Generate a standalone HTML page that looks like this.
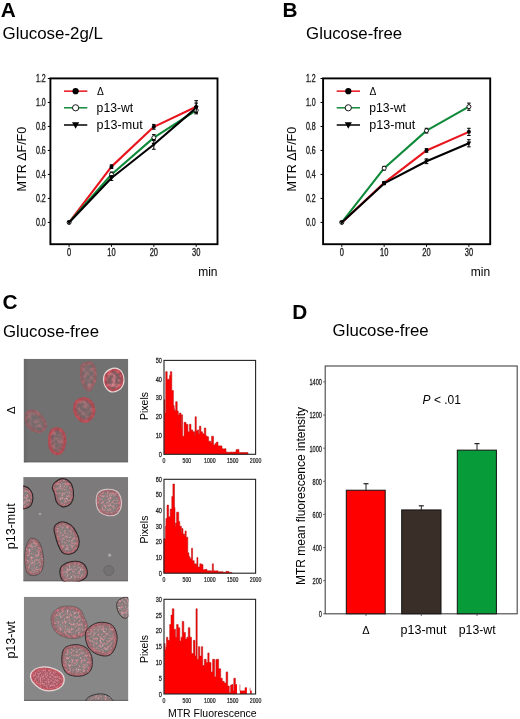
<!DOCTYPE html>
<html><head><meta charset="utf-8"><style>
html,body{margin:0;padding:0;background:#fff;overflow:hidden}
svg{display:block;filter:blur(0.3px)}
text{font-family:"Liberation Sans", sans-serif}
</style></head><body>
<svg width="520" height="719" viewBox="0 0 520 719">
<rect width="520" height="719" fill="#fff"/>
<text transform="translate(0.70,17.40)" font-size="20.8" font-weight="bold" fill="#000">A</text>
<text transform="translate(2.50,38.90)" font-size="16.9" fill="#000">Glucose-2g/L</text>
<text transform="translate(282.60,16.60)" font-size="20.8" font-weight="bold" fill="#000">B</text>
<text transform="translate(306.10,38.80)" font-size="16.8" fill="#000">Glucose-free</text>
<text transform="translate(2.60,309.40)" font-size="20.8" font-weight="bold" fill="#000">C</text>
<text transform="translate(2.90,336.90)" font-size="16.8" fill="#000">Glucose-free</text>
<text transform="translate(292.30,319.20)" font-size="20.8" font-weight="bold" fill="#000">D</text>
<text transform="translate(332.60,336.00)" font-size="16.8" fill="#000">Glucose-free</text>
<rect x="50.4" y="78.4" width="167.1" height="165.79999999999998" fill="none" stroke="#000" stroke-width="1.9"/>
<line x1="47.80" y1="222.40" x2="50.40" y2="222.40" stroke="#000" stroke-width="1"/>
<text transform="translate(45.80,226.20) scale(0.68,1)" font-size="10.4" text-anchor="end" fill="#222" stroke="#222" stroke-width="0.35">0.0</text>
<line x1="47.80" y1="198.42" x2="50.40" y2="198.42" stroke="#000" stroke-width="1"/>
<text transform="translate(45.80,202.22) scale(0.68,1)" font-size="10.4" text-anchor="end" fill="#222" stroke="#222" stroke-width="0.35">0.2</text>
<line x1="47.80" y1="174.43" x2="50.40" y2="174.43" stroke="#000" stroke-width="1"/>
<text transform="translate(45.80,178.23) scale(0.68,1)" font-size="10.4" text-anchor="end" fill="#222" stroke="#222" stroke-width="0.35">0.4</text>
<line x1="47.80" y1="150.45" x2="50.40" y2="150.45" stroke="#000" stroke-width="1"/>
<text transform="translate(45.80,154.25) scale(0.68,1)" font-size="10.4" text-anchor="end" fill="#222" stroke="#222" stroke-width="0.35">0.6</text>
<line x1="47.80" y1="126.47" x2="50.40" y2="126.47" stroke="#000" stroke-width="1"/>
<text transform="translate(45.80,130.27) scale(0.68,1)" font-size="10.4" text-anchor="end" fill="#222" stroke="#222" stroke-width="0.35">0.8</text>
<line x1="47.80" y1="102.48" x2="50.40" y2="102.48" stroke="#000" stroke-width="1"/>
<text transform="translate(45.80,106.28) scale(0.68,1)" font-size="10.4" text-anchor="end" fill="#222" stroke="#222" stroke-width="0.35">1.0</text>
<line x1="47.80" y1="78.50" x2="50.40" y2="78.50" stroke="#000" stroke-width="1"/>
<text transform="translate(45.80,82.30) scale(0.68,1)" font-size="10.4" text-anchor="end" fill="#222" stroke="#222" stroke-width="0.35">1.2</text>
<line x1="69.10" y1="244.20" x2="69.10" y2="246.80" stroke="#000" stroke-width="1"/>
<text transform="translate(69.10,255.60) scale(0.72,1)" font-size="10.4" text-anchor="middle" fill="#222" stroke="#222" stroke-width="0.35">0</text>
<line x1="111.47" y1="244.20" x2="111.47" y2="246.80" stroke="#000" stroke-width="1"/>
<text transform="translate(111.47,255.60) scale(0.72,1)" font-size="10.4" text-anchor="middle" fill="#222" stroke="#222" stroke-width="0.35">10</text>
<line x1="153.83" y1="244.20" x2="153.83" y2="246.80" stroke="#000" stroke-width="1"/>
<text transform="translate(153.83,255.60) scale(0.72,1)" font-size="10.4" text-anchor="middle" fill="#222" stroke="#222" stroke-width="0.35">20</text>
<line x1="196.20" y1="244.20" x2="196.20" y2="246.80" stroke="#000" stroke-width="1"/>
<text transform="translate(196.20,255.60) scale(0.72,1)" font-size="10.4" text-anchor="middle" fill="#222" stroke="#222" stroke-width="0.35">30</text>
<text transform="translate(217.50,275.80)" font-size="12" text-anchor="end" fill="#000">min</text>
<text transform="translate(26.40,191.40) rotate(-90)" font-size="12.5" fill="#000">MTR ΔF/F0</text>
<polyline points="69.10,222.40 111.47,166.64 153.83,126.83 196.20,106.68" fill="none" stroke="#e8141e" stroke-width="2.1" stroke-linejoin="round"/>
<polyline points="69.10,222.40 111.47,174.43 153.83,137.62 196.20,110.28" fill="none" stroke="#0f8a3a" stroke-width="2.1" stroke-linejoin="round"/>
<polyline points="69.10,222.40 111.47,178.03 153.83,144.45 196.20,107.88" fill="none" stroke="#000" stroke-width="2.1" stroke-linejoin="round"/>
<circle cx="69.10" cy="222.40" r="2.0" fill="#000"/>
<line x1="111.47" y1="164.84" x2="111.47" y2="168.44" stroke="#000" stroke-width="1"/>
<line x1="109.67" y1="164.84" x2="113.27" y2="164.84" stroke="#000" stroke-width="1"/>
<line x1="109.67" y1="168.44" x2="113.27" y2="168.44" stroke="#000" stroke-width="1"/>
<circle cx="111.47" cy="166.64" r="2.0" fill="#000"/>
<line x1="153.83" y1="124.43" x2="153.83" y2="129.22" stroke="#000" stroke-width="1"/>
<line x1="152.03" y1="124.43" x2="155.63" y2="124.43" stroke="#000" stroke-width="1"/>
<line x1="152.03" y1="129.22" x2="155.63" y2="129.22" stroke="#000" stroke-width="1"/>
<circle cx="153.83" cy="126.83" r="2.0" fill="#000"/>
<line x1="196.20" y1="100.68" x2="196.20" y2="112.68" stroke="#000" stroke-width="1"/>
<line x1="194.40" y1="100.68" x2="198.00" y2="100.68" stroke="#000" stroke-width="1"/>
<line x1="194.40" y1="112.68" x2="198.00" y2="112.68" stroke="#000" stroke-width="1"/>
<circle cx="196.20" cy="106.68" r="2.0" fill="#000"/>
<circle cx="69.10" cy="222.40" r="2.0" fill="#fff" stroke="#000" stroke-width="0.9"/>
<line x1="111.47" y1="172.03" x2="111.47" y2="176.83" stroke="#000" stroke-width="1"/>
<line x1="109.67" y1="172.03" x2="113.27" y2="172.03" stroke="#000" stroke-width="1"/>
<line x1="109.67" y1="176.83" x2="113.27" y2="176.83" stroke="#000" stroke-width="1"/>
<circle cx="111.47" cy="174.43" r="2.0" fill="#fff" stroke="#000" stroke-width="0.9"/>
<line x1="153.83" y1="134.62" x2="153.83" y2="140.62" stroke="#000" stroke-width="1"/>
<line x1="152.03" y1="134.62" x2="155.63" y2="134.62" stroke="#000" stroke-width="1"/>
<line x1="152.03" y1="140.62" x2="155.63" y2="140.62" stroke="#000" stroke-width="1"/>
<circle cx="153.83" cy="137.62" r="2.0" fill="#fff" stroke="#000" stroke-width="0.9"/>
<line x1="196.20" y1="106.68" x2="196.20" y2="113.88" stroke="#000" stroke-width="1"/>
<line x1="194.40" y1="106.68" x2="198.00" y2="106.68" stroke="#000" stroke-width="1"/>
<line x1="194.40" y1="113.88" x2="198.00" y2="113.88" stroke="#000" stroke-width="1"/>
<circle cx="196.20" cy="110.28" r="2.0" fill="#fff" stroke="#000" stroke-width="0.9"/>
<path d="M66.80,220.68L71.40,220.68L69.10,224.81Z" fill="#000"/>
<line x1="111.47" y1="175.63" x2="111.47" y2="180.43" stroke="#000" stroke-width="1"/>
<line x1="109.67" y1="175.63" x2="113.27" y2="175.63" stroke="#000" stroke-width="1"/>
<line x1="109.67" y1="180.43" x2="113.27" y2="180.43" stroke="#000" stroke-width="1"/>
<path d="M109.17,176.31L113.77,176.31L111.47,180.45Z" fill="#000"/>
<line x1="153.83" y1="139.66" x2="153.83" y2="149.25" stroke="#000" stroke-width="1"/>
<line x1="152.03" y1="139.66" x2="155.63" y2="139.66" stroke="#000" stroke-width="1"/>
<line x1="152.03" y1="149.25" x2="155.63" y2="149.25" stroke="#000" stroke-width="1"/>
<path d="M151.53,142.73L156.13,142.73L153.83,146.87Z" fill="#000"/>
<line x1="196.20" y1="103.08" x2="196.20" y2="112.68" stroke="#000" stroke-width="1"/>
<line x1="194.40" y1="103.08" x2="198.00" y2="103.08" stroke="#000" stroke-width="1"/>
<line x1="194.40" y1="112.68" x2="198.00" y2="112.68" stroke="#000" stroke-width="1"/>
<path d="M193.90,106.15L198.50,106.15L196.20,110.29Z" fill="#000"/>
<line x1="64.00" y1="91.15" x2="87.30" y2="91.15" stroke="#e8141e" stroke-width="1.5"/>
<circle cx="75.60" cy="91.15" r="3.1" fill="#000"/>
<line x1="64.00" y1="107.8" x2="87.30" y2="107.8" stroke="#0f8a3a" stroke-width="1.5"/>
<circle cx="75.60" cy="107.80" r="3.1" fill="#fff" stroke="#000" stroke-width="0.9"/>
<line x1="64.00" y1="125.0" x2="87.30" y2="125.0" stroke="#000" stroke-width="1.5"/>
<path d="M72.03,122.33L79.16,122.33L75.60,128.74Z" fill="#000"/>
<text transform="translate(96.90,94.90)" font-size="10.2" fill="#000">Δ</text>
<text transform="translate(96.60,111.70)" font-size="12.2" fill="#000">p13-wt</text>
<text transform="translate(96.60,128.50)" font-size="12.55" fill="#000">p13-mut</text>
<rect x="323.09999999999997" y="78.4" width="167.10000000000002" height="165.79999999999998" fill="none" stroke="#000" stroke-width="1.9"/>
<line x1="320.50" y1="222.40" x2="323.10" y2="222.40" stroke="#000" stroke-width="1"/>
<text transform="translate(315.70,226.20) scale(0.68,1)" font-size="10.4" text-anchor="end" fill="#222" stroke="#222" stroke-width="0.35">0.0</text>
<line x1="320.50" y1="198.42" x2="323.10" y2="198.42" stroke="#000" stroke-width="1"/>
<text transform="translate(315.70,202.22) scale(0.68,1)" font-size="10.4" text-anchor="end" fill="#222" stroke="#222" stroke-width="0.35">0.2</text>
<line x1="320.50" y1="174.43" x2="323.10" y2="174.43" stroke="#000" stroke-width="1"/>
<text transform="translate(315.70,178.23) scale(0.68,1)" font-size="10.4" text-anchor="end" fill="#222" stroke="#222" stroke-width="0.35">0.4</text>
<line x1="320.50" y1="150.45" x2="323.10" y2="150.45" stroke="#000" stroke-width="1"/>
<text transform="translate(315.70,154.25) scale(0.68,1)" font-size="10.4" text-anchor="end" fill="#222" stroke="#222" stroke-width="0.35">0.6</text>
<line x1="320.50" y1="126.47" x2="323.10" y2="126.47" stroke="#000" stroke-width="1"/>
<text transform="translate(315.70,130.27) scale(0.68,1)" font-size="10.4" text-anchor="end" fill="#222" stroke="#222" stroke-width="0.35">0.8</text>
<line x1="320.50" y1="102.48" x2="323.10" y2="102.48" stroke="#000" stroke-width="1"/>
<text transform="translate(315.70,106.28) scale(0.68,1)" font-size="10.4" text-anchor="end" fill="#222" stroke="#222" stroke-width="0.35">1.0</text>
<line x1="320.50" y1="78.50" x2="323.10" y2="78.50" stroke="#000" stroke-width="1"/>
<text transform="translate(315.70,82.30) scale(0.68,1)" font-size="10.4" text-anchor="end" fill="#222" stroke="#222" stroke-width="0.35">1.2</text>
<line x1="341.80" y1="244.20" x2="341.80" y2="246.80" stroke="#000" stroke-width="1"/>
<text transform="translate(341.80,255.60) scale(0.72,1)" font-size="10.4" text-anchor="middle" fill="#222" stroke="#222" stroke-width="0.35">0</text>
<line x1="384.17" y1="244.20" x2="384.17" y2="246.80" stroke="#000" stroke-width="1"/>
<text transform="translate(384.17,255.60) scale(0.72,1)" font-size="10.4" text-anchor="middle" fill="#222" stroke="#222" stroke-width="0.35">10</text>
<line x1="426.53" y1="244.20" x2="426.53" y2="246.80" stroke="#000" stroke-width="1"/>
<text transform="translate(426.53,255.60) scale(0.72,1)" font-size="10.4" text-anchor="middle" fill="#222" stroke="#222" stroke-width="0.35">20</text>
<line x1="468.90" y1="244.20" x2="468.90" y2="246.80" stroke="#000" stroke-width="1"/>
<text transform="translate(468.90,255.60) scale(0.72,1)" font-size="10.4" text-anchor="middle" fill="#222" stroke="#222" stroke-width="0.35">30</text>
<text transform="translate(490.20,275.80)" font-size="12" text-anchor="end" fill="#000">min</text>
<text transform="translate(295.60,191.40) rotate(-90)" font-size="12.5" fill="#000">MTR ΔF/F0</text>
<polyline points="341.80,222.40 384.17,182.83 426.53,150.45 468.90,131.86" fill="none" stroke="#e8141e" stroke-width="2.1" stroke-linejoin="round"/>
<polyline points="341.80,222.40 384.17,168.20 426.53,130.66 468.90,106.68" fill="none" stroke="#0f8a3a" stroke-width="2.1" stroke-linejoin="round"/>
<polyline points="341.80,222.40 384.17,183.43 426.53,161.24 468.90,143.25" fill="none" stroke="#000" stroke-width="2.1" stroke-linejoin="round"/>
<circle cx="341.80" cy="222.40" r="2.0" fill="#000"/>
<line x1="384.17" y1="181.63" x2="384.17" y2="184.03" stroke="#000" stroke-width="1"/>
<line x1="382.37" y1="181.63" x2="385.97" y2="181.63" stroke="#000" stroke-width="1"/>
<line x1="382.37" y1="184.03" x2="385.97" y2="184.03" stroke="#000" stroke-width="1"/>
<circle cx="384.17" cy="182.83" r="2.0" fill="#000"/>
<line x1="426.53" y1="148.65" x2="426.53" y2="152.25" stroke="#000" stroke-width="1"/>
<line x1="424.73" y1="148.65" x2="428.33" y2="148.65" stroke="#000" stroke-width="1"/>
<line x1="424.73" y1="152.25" x2="428.33" y2="152.25" stroke="#000" stroke-width="1"/>
<circle cx="426.53" cy="150.45" r="2.0" fill="#000"/>
<line x1="468.90" y1="128.27" x2="468.90" y2="135.46" stroke="#000" stroke-width="1"/>
<line x1="467.10" y1="128.27" x2="470.70" y2="128.27" stroke="#000" stroke-width="1"/>
<line x1="467.10" y1="135.46" x2="470.70" y2="135.46" stroke="#000" stroke-width="1"/>
<circle cx="468.90" cy="131.86" r="2.0" fill="#000"/>
<circle cx="341.80" cy="222.40" r="2.0" fill="#fff" stroke="#000" stroke-width="0.9"/>
<line x1="384.17" y1="166.40" x2="384.17" y2="170.00" stroke="#000" stroke-width="1"/>
<line x1="382.37" y1="166.40" x2="385.97" y2="166.40" stroke="#000" stroke-width="1"/>
<line x1="382.37" y1="170.00" x2="385.97" y2="170.00" stroke="#000" stroke-width="1"/>
<circle cx="384.17" cy="168.20" r="2.0" fill="#fff" stroke="#000" stroke-width="0.9"/>
<line x1="426.53" y1="128.27" x2="426.53" y2="133.06" stroke="#000" stroke-width="1"/>
<line x1="424.73" y1="128.27" x2="428.33" y2="128.27" stroke="#000" stroke-width="1"/>
<line x1="424.73" y1="133.06" x2="428.33" y2="133.06" stroke="#000" stroke-width="1"/>
<circle cx="426.53" cy="130.66" r="2.0" fill="#fff" stroke="#000" stroke-width="0.9"/>
<line x1="468.90" y1="103.08" x2="468.90" y2="110.28" stroke="#000" stroke-width="1"/>
<line x1="467.10" y1="103.08" x2="470.70" y2="103.08" stroke="#000" stroke-width="1"/>
<line x1="467.10" y1="110.28" x2="470.70" y2="110.28" stroke="#000" stroke-width="1"/>
<circle cx="468.90" cy="106.68" r="2.0" fill="#fff" stroke="#000" stroke-width="0.9"/>
<path d="M339.50,220.68L344.10,220.68L341.80,224.81Z" fill="#000"/>
<line x1="384.17" y1="182.23" x2="384.17" y2="184.63" stroke="#000" stroke-width="1"/>
<line x1="382.37" y1="182.23" x2="385.97" y2="182.23" stroke="#000" stroke-width="1"/>
<line x1="382.37" y1="184.63" x2="385.97" y2="184.63" stroke="#000" stroke-width="1"/>
<path d="M381.87,181.70L386.47,181.70L384.17,185.84Z" fill="#000"/>
<line x1="426.53" y1="158.84" x2="426.53" y2="163.64" stroke="#000" stroke-width="1"/>
<line x1="424.73" y1="158.84" x2="428.33" y2="158.84" stroke="#000" stroke-width="1"/>
<line x1="424.73" y1="163.64" x2="428.33" y2="163.64" stroke="#000" stroke-width="1"/>
<path d="M424.23,159.52L428.83,159.52L426.53,163.66Z" fill="#000"/>
<line x1="468.90" y1="139.66" x2="468.90" y2="146.85" stroke="#000" stroke-width="1"/>
<line x1="467.10" y1="139.66" x2="470.70" y2="139.66" stroke="#000" stroke-width="1"/>
<line x1="467.10" y1="146.85" x2="470.70" y2="146.85" stroke="#000" stroke-width="1"/>
<path d="M466.60,141.53L471.20,141.53L468.90,145.67Z" fill="#000"/>
<line x1="336.70" y1="91.15" x2="360.00" y2="91.15" stroke="#e8141e" stroke-width="1.5"/>
<circle cx="348.30" cy="91.15" r="3.1" fill="#000"/>
<line x1="336.70" y1="107.8" x2="360.00" y2="107.8" stroke="#0f8a3a" stroke-width="1.5"/>
<circle cx="348.30" cy="107.80" r="3.1" fill="#fff" stroke="#000" stroke-width="0.9"/>
<line x1="336.70" y1="125.0" x2="360.00" y2="125.0" stroke="#000" stroke-width="1.5"/>
<path d="M344.73,122.33L351.86,122.33L348.30,128.74Z" fill="#000"/>
<text transform="translate(369.60,94.90)" font-size="10.2" fill="#000">Δ</text>
<text transform="translate(369.30,111.70)" font-size="12.2" fill="#000">p13-wt</text>
<text transform="translate(369.30,128.50)" font-size="12.55" fill="#000">p13-mut</text>
<rect x="325.2" y="366.0" width="192.00000000000006" height="247.79999999999995" fill="none" stroke="#444" stroke-width="1.1"/>
<line x1="323.20" y1="613.80" x2="325.2" y2="613.80" stroke="#444" stroke-width="0.8"/>
<text transform="translate(322.00,617.20) scale(0.6,1)" font-size="9.4" text-anchor="end" fill="#222" stroke="#222" stroke-width="0.3">0</text>
<line x1="323.20" y1="580.67" x2="325.2" y2="580.67" stroke="#444" stroke-width="0.8"/>
<text transform="translate(322.00,584.07) scale(0.6,1)" font-size="9.4" text-anchor="end" fill="#222" stroke="#222" stroke-width="0.3">200</text>
<line x1="323.20" y1="547.54" x2="325.2" y2="547.54" stroke="#444" stroke-width="0.8"/>
<text transform="translate(322.00,550.94) scale(0.6,1)" font-size="9.4" text-anchor="end" fill="#222" stroke="#222" stroke-width="0.3">400</text>
<line x1="323.20" y1="514.41" x2="325.2" y2="514.41" stroke="#444" stroke-width="0.8"/>
<text transform="translate(322.00,517.81) scale(0.6,1)" font-size="9.4" text-anchor="end" fill="#222" stroke="#222" stroke-width="0.3">600</text>
<line x1="323.20" y1="481.29" x2="325.2" y2="481.29" stroke="#444" stroke-width="0.8"/>
<text transform="translate(322.00,484.69) scale(0.6,1)" font-size="9.4" text-anchor="end" fill="#222" stroke="#222" stroke-width="0.3">800</text>
<line x1="323.20" y1="448.16" x2="325.2" y2="448.16" stroke="#444" stroke-width="0.8"/>
<text transform="translate(322.00,451.56) scale(0.6,1)" font-size="9.4" text-anchor="end" fill="#222" stroke="#222" stroke-width="0.3">1000</text>
<line x1="323.20" y1="415.03" x2="325.2" y2="415.03" stroke="#444" stroke-width="0.8"/>
<text transform="translate(322.00,418.43) scale(0.6,1)" font-size="9.4" text-anchor="end" fill="#222" stroke="#222" stroke-width="0.3">1200</text>
<line x1="323.20" y1="381.90" x2="325.2" y2="381.90" stroke="#444" stroke-width="0.8"/>
<text transform="translate(322.00,385.30) scale(0.6,1)" font-size="9.4" text-anchor="end" fill="#222" stroke="#222" stroke-width="0.3">1400</text>
<text transform="translate(305.20,585.00) rotate(-90)" font-size="12" fill="#000">MTR mean fluorescence intensity</text>
<line x1="366.0" y1="483.7" x2="366.0" y2="490.23042857142855" stroke="#222" stroke-width="1"/>
<line x1="363.5" y1="483.7" x2="368.5" y2="483.7" stroke="#222" stroke-width="1.2"/>
<rect x="346.3" y="490.23" width="38.90" height="123.57" fill="#ff0000" stroke="#111" stroke-width="1"/>
<line x1="366.0" y1="613.8" x2="366.0" y2="616.0" stroke="#444" stroke-width="0.8"/>
<line x1="421.3" y1="505.8" x2="421.3" y2="509.94192857142855" stroke="#222" stroke-width="1"/>
<line x1="418.8" y1="505.8" x2="423.8" y2="505.8" stroke="#222" stroke-width="1.2"/>
<rect x="401.7" y="509.94" width="39.30" height="103.86" fill="#3a2e29" stroke="#111" stroke-width="1"/>
<line x1="421.3" y1="613.8" x2="421.3" y2="616.0" stroke="#444" stroke-width="0.8"/>
<line x1="477.0" y1="443.6" x2="477.0" y2="450.1448571428571" stroke="#222" stroke-width="1"/>
<line x1="474.5" y1="443.6" x2="479.5" y2="443.6" stroke="#222" stroke-width="1.2"/>
<rect x="457.3" y="450.14" width="39.10" height="163.66" fill="#079b3a" stroke="#111" stroke-width="1"/>
<line x1="477.0" y1="613.8" x2="477.0" y2="616.0" stroke="#444" stroke-width="0.8"/>
<text transform="translate(366.00,633.80)" font-size="11" text-anchor="middle" fill="#000">Δ</text>
<text transform="translate(423.50,633.80)" font-size="12.5" text-anchor="middle" fill="#000">p13-mut</text>
<text transform="translate(477.20,633.80)" font-size="12.3" text-anchor="middle" fill="#000">p13-wt</text>
<text x="422.6" y="404" font-size="12" font-family='"Liberation Sans", sans-serif'><tspan font-style="italic">P</tspan> &lt; .01</text>
<path d="M164.20,454.30V399.84H165.00V454.30ZM165.00,454.30V412.98H165.70V454.30ZM165.70,454.30V371.67H167.20V454.30ZM167.20,454.30V379.18H168.00V454.30ZM168.00,454.30V379.18H169.50V454.30ZM169.50,454.30V375.42H170.30V454.30ZM170.30,454.30V371.67H171.80V454.30ZM171.80,454.30V390.45H173.40V454.30ZM173.40,454.30V405.47H174.20V454.30ZM174.20,454.30V409.23H174.90V454.30ZM174.90,454.30V411.11H175.70V454.30ZM175.70,454.30V401.72H177.20V454.30ZM177.20,454.30V411.11H178.30V454.30ZM178.30,454.30V414.86H179.50V454.30ZM179.50,454.30V412.98H181.00V454.30ZM181.00,454.30V428.01H181.30V454.30ZM181.30,454.30V414.86H182.60V454.30ZM182.60,454.30V436.27H184.10V454.30ZM184.10,454.30V422.37H186.00V454.30ZM186.00,454.30V424.25H187.90V454.30ZM187.90,454.30V431.76H189.40V454.30ZM189.40,454.30V424.25H191.00V454.30ZM191.00,454.30V429.89H192.80V454.30ZM192.80,454.30V431.76H194.80V454.30ZM194.80,454.30V435.52H195.10V454.30ZM195.10,454.30V416.74H196.30V454.30ZM196.30,454.30V430.69H197.45V454.30ZM197.45,454.30V429.89H198.60V454.30ZM198.60,454.30V433.64H199.40V454.30ZM199.40,454.30V426.13H200.90V454.30ZM200.90,454.30V431.76H202.50V454.30ZM202.50,454.30V433.64H204.30V454.30ZM204.30,454.30V428.01H205.80V454.30ZM205.80,454.30V435.52H206.30V454.30ZM206.30,454.30V436.27H207.45V454.30ZM207.45,454.30V436.79H208.60V454.30ZM208.60,454.30V441.27H209.75V454.30ZM209.75,454.30V441.15H210.90V454.30ZM210.90,454.30V443.03H211.60V454.30ZM211.60,454.30V436.27H213.50V454.30ZM213.50,454.30V444.91H215.00V454.30ZM215.00,454.30V443.38H216.50V454.30ZM216.50,454.30V442.09H218.00V454.30ZM218.00,454.30V445.95H219.33V454.30ZM219.33,454.30V445.85H220.67V454.30ZM220.67,454.30V445.88H222.00V454.30ZM222.00,454.30V448.71H223.33V454.30ZM223.33,454.30V449.06H224.67V454.30ZM224.67,454.30V448.67H226.00V454.30ZM226.00,454.30V452.07H227.43V454.30ZM227.43,454.30V452.27H228.86V454.30ZM228.86,454.30V452.24H230.29V454.30ZM230.29,454.30V452.05H231.71V454.30ZM231.71,454.30V452.18H233.14V454.30ZM233.14,454.30V452.06H234.57V454.30ZM234.57,454.30V452.05H236.00V454.30ZM236.00,454.30V449.66H237.50V454.30ZM237.50,454.30V449.42H239.00V454.30ZM239.00,454.30V452.42H240.50V454.30ZM240.50,454.30V452.54H242.00V454.30ZM242.00,454.30V452.48H243.50V454.30ZM243.50,454.30V452.56H245.00V454.30ZM245.00,454.30V452.50H246.50V454.30ZM246.50,454.30V452.56H248.00V454.30Z" fill="#ff0000"/>
<path d="M164.20,454.30V399.84H165.00M165.00,399.84V412.98H165.70M165.70,412.98V371.67H167.20M167.20,371.67V379.18H168.00M168.00,379.18V379.18H169.50M169.50,379.18V375.42H170.30M170.30,375.42V371.67H171.80M171.80,371.67V390.45H173.40M173.40,390.45V405.47H174.20M174.20,405.47V409.23H174.90M174.90,409.23V411.11H175.70M175.70,411.11V401.72H177.20M177.20,401.72V411.11H178.30M178.30,411.11V414.86H179.50M179.50,414.86V412.98H181.00M181.00,412.98V428.01H181.30M181.30,428.01V414.86H182.60M182.60,414.86V436.27H184.10M184.10,436.27V422.37H186.00M186.00,422.37V424.25H187.90M187.90,424.25V431.76H189.40M189.40,431.76V424.25H191.00M191.00,424.25V429.89H192.80M192.80,429.89V431.76H194.80M194.80,431.76V435.52H195.10M195.10,435.52V416.74H196.30M196.30,416.74V430.69H197.45M197.45,430.69V429.89H198.60M198.60,429.89V433.64H199.40M199.40,433.64V426.13H200.90M200.90,426.13V431.76H202.50M202.50,431.76V433.64H204.30M204.30,433.64V428.01H205.80M205.80,428.01V435.52H206.30M206.30,435.52V436.27H207.45M207.45,436.27V436.79H208.60M208.60,436.79V441.27H209.75M209.75,441.27V441.15H210.90M210.90,441.15V443.03H211.60M211.60,443.03V436.27H213.50M213.50,436.27V444.91H215.00M215.00,444.91V443.38H216.50M216.50,443.38V442.09H218.00M218.00,442.09V445.95H219.33M219.33,445.95V445.85H220.67M220.67,445.85V445.88H222.00M222.00,445.88V448.71H223.33M223.33,448.71V449.06H224.67M224.67,449.06V448.67H226.00M226.00,448.67V452.07H227.43M227.43,452.07V452.27H228.86M228.86,452.27V452.24H230.29M230.29,452.24V452.05H231.71M231.71,452.05V452.18H233.14M233.14,452.18V452.06H234.57M234.57,452.06V452.05H236.00M236.00,452.05V449.66H237.50M237.50,449.66V449.42H239.00M239.00,449.42V452.42H240.50M240.50,452.42V452.54H242.00M242.00,452.54V452.48H243.50M243.50,452.48V452.56H245.00M245.00,452.56V452.50H246.50M246.50,452.50V452.56H248.00V454.30" stroke="#b81414" stroke-width="0.55" fill="none"/>
<rect x="164.0" y="360.4" width="91.6" height="93.90000000000003" fill="none" stroke="#222" stroke-width="1.1"/>
<text transform="translate(161.90,456.80) scale(0.8,1)" font-size="7.0" text-anchor="end" fill="#222" stroke="#222" stroke-width="0.25">0</text>
<text transform="translate(161.90,438.02) scale(0.8,1)" font-size="7.0" text-anchor="end" fill="#222" stroke="#222" stroke-width="0.25">10</text>
<text transform="translate(161.90,419.24) scale(0.8,1)" font-size="7.0" text-anchor="end" fill="#222" stroke="#222" stroke-width="0.25">20</text>
<text transform="translate(161.90,400.46) scale(0.8,1)" font-size="7.0" text-anchor="end" fill="#222" stroke="#222" stroke-width="0.25">30</text>
<text transform="translate(161.90,381.68) scale(0.8,1)" font-size="7.0" text-anchor="end" fill="#222" stroke="#222" stroke-width="0.25">40</text>
<text transform="translate(161.90,362.90) scale(0.8,1)" font-size="7.0" text-anchor="end" fill="#222" stroke="#222" stroke-width="0.25">50</text>
<text transform="translate(164.00,463.10) scale(0.72,1)" font-size="7.2" text-anchor="middle" fill="#222" stroke="#222" stroke-width="0.25">0</text>
<text transform="translate(186.90,463.10) scale(0.72,1)" font-size="7.2" text-anchor="middle" fill="#222" stroke="#222" stroke-width="0.25">500</text>
<text transform="translate(209.80,463.10) scale(0.72,1)" font-size="7.2" text-anchor="middle" fill="#222" stroke="#222" stroke-width="0.25">1000</text>
<text transform="translate(232.70,463.10) scale(0.72,1)" font-size="7.2" text-anchor="middle" fill="#222" stroke="#222" stroke-width="0.25">1500</text>
<text transform="translate(255.60,463.10) scale(0.72,1)" font-size="7.2" text-anchor="middle" fill="#222" stroke="#222" stroke-width="0.25">2000</text>
<text transform="translate(148.10,406.00) rotate(-90)" font-size="10.5" text-anchor="middle" fill="#000">Pixels</text>
<path d="M163.80,573.20V538.77H165.40V573.20ZM165.40,573.20V526.25H165.90V573.20ZM165.90,573.20V518.43H167.00V573.20ZM167.00,573.20V505.12H168.60V573.20ZM168.60,573.20V516.86H170.20V573.20ZM170.20,573.20V509.04H171.80V573.20ZM171.80,573.20V496.51H172.90V573.20ZM172.90,573.20V484.00H174.50V573.20ZM174.50,573.20V507.47H175.00V573.20ZM175.00,573.20V526.25H175.50V573.20ZM175.50,573.20V523.12H176.60V573.20ZM176.60,573.20V512.16H178.70V573.20ZM178.70,573.20V521.56H179.80V573.20ZM179.80,573.20V526.25H181.40V573.20ZM181.40,573.20V532.51H181.90V573.20ZM181.90,573.20V528.60H183.00V573.20ZM183.00,573.20V534.08H184.60V573.20ZM184.60,573.20V535.64H185.10V573.20ZM185.10,573.20V530.95H186.20V573.20ZM186.20,573.20V537.21H187.80V573.20ZM187.80,573.20V552.86H188.90V573.20ZM188.90,573.20V555.99H189.40V573.20ZM189.40,573.20V557.55H190.50V573.20ZM190.50,573.20V559.12H191.50V573.20ZM191.50,573.20V548.16H192.60V573.20ZM192.60,573.20V560.68H194.20V573.20ZM194.20,573.20V564.12H195.40V573.20ZM195.40,573.20V563.81H196.60V573.20ZM196.60,573.20V565.38H196.90V573.20ZM196.90,573.20V557.55H197.90V573.20ZM197.90,573.20V566.94H199.80V573.20ZM199.80,573.20V563.81H201.40V573.20ZM201.40,573.20V564.55H203.00V573.20ZM203.00,573.20V569.65H204.33V573.20ZM204.33,573.20V569.54H205.67V573.20ZM205.67,573.20V569.29H207.00V573.20ZM207.00,573.20V570.72H208.60V573.20ZM208.60,573.20V570.70H210.20V573.20ZM210.20,573.20V570.87H211.80V573.20ZM211.80,573.20V571.63H212.30V573.20ZM212.30,573.20V563.81H213.40V573.20ZM213.40,573.20V570.85H214.93V573.20ZM214.93,573.20V570.89H216.47V573.20ZM216.47,573.20V570.85H218.00V573.20ZM218.00,573.20V571.63H219.67V573.20ZM219.67,573.20V571.68H221.33V573.20ZM221.33,573.20V571.65H223.00V573.20ZM223.00,573.20V572.32H224.50V573.20ZM224.50,573.20V572.26H226.00V573.20ZM226.00,573.20V571.32H227.50V573.20ZM227.50,573.20V571.48H229.00V573.20ZM229.00,573.20V572.43H230.50V573.20ZM230.50,573.20V572.42H232.00V573.20Z" fill="#ff0000"/>
<path d="M163.80,573.20V538.77H165.40M165.40,538.77V526.25H165.90M165.90,526.25V518.43H167.00M167.00,518.43V505.12H168.60M168.60,505.12V516.86H170.20M170.20,516.86V509.04H171.80M171.80,509.04V496.51H172.90M172.90,496.51V484.00H174.50M174.50,484.00V507.47H175.00M175.00,507.47V526.25H175.50M175.50,526.25V523.12H176.60M176.60,523.12V512.16H178.70M178.70,512.16V521.56H179.80M179.80,521.56V526.25H181.40M181.40,526.25V532.51H181.90M181.90,532.51V528.60H183.00M183.00,528.60V534.08H184.60M184.60,534.08V535.64H185.10M185.10,535.64V530.95H186.20M186.20,530.95V537.21H187.80M187.80,537.21V552.86H188.90M188.90,552.86V555.99H189.40M189.40,555.99V557.55H190.50M190.50,557.55V559.12H191.50M191.50,559.12V548.16H192.60M192.60,548.16V560.68H194.20M194.20,560.68V564.12H195.40M195.40,564.12V563.81H196.60M196.60,563.81V565.38H196.90M196.90,565.38V557.55H197.90M197.90,557.55V566.94H199.80M199.80,566.94V563.81H201.40M201.40,563.81V564.55H203.00M203.00,564.55V569.65H204.33M204.33,569.65V569.54H205.67M205.67,569.54V569.29H207.00M207.00,569.29V570.72H208.60M208.60,570.72V570.70H210.20M210.20,570.70V570.87H211.80M211.80,570.87V571.63H212.30M212.30,571.63V563.81H213.40M213.40,563.81V570.85H214.93M214.93,570.85V570.89H216.47M216.47,570.89V570.85H218.00M218.00,570.85V571.63H219.67M219.67,571.63V571.68H221.33M221.33,571.68V571.65H223.00M223.00,571.65V572.32H224.50M224.50,572.32V572.26H226.00M226.00,572.26V571.32H227.50M227.50,571.32V571.48H229.00M229.00,571.48V572.43H230.50M230.50,572.43V572.42H232.00V573.20" stroke="#b81414" stroke-width="0.55" fill="none"/>
<rect x="164.0" y="479.3" width="91.6" height="93.90000000000003" fill="none" stroke="#222" stroke-width="1.1"/>
<text transform="translate(161.90,575.70) scale(0.8,1)" font-size="7.0" text-anchor="end" fill="#222" stroke="#222" stroke-width="0.25">0</text>
<text transform="translate(161.90,560.05) scale(0.8,1)" font-size="7.0" text-anchor="end" fill="#222" stroke="#222" stroke-width="0.25">10</text>
<text transform="translate(161.90,544.40) scale(0.8,1)" font-size="7.0" text-anchor="end" fill="#222" stroke="#222" stroke-width="0.25">20</text>
<text transform="translate(161.90,528.75) scale(0.8,1)" font-size="7.0" text-anchor="end" fill="#222" stroke="#222" stroke-width="0.25">30</text>
<text transform="translate(161.90,513.10) scale(0.8,1)" font-size="7.0" text-anchor="end" fill="#222" stroke="#222" stroke-width="0.25">40</text>
<text transform="translate(161.90,497.45) scale(0.8,1)" font-size="7.0" text-anchor="end" fill="#222" stroke="#222" stroke-width="0.25">50</text>
<text transform="translate(161.90,481.80) scale(0.8,1)" font-size="7.0" text-anchor="end" fill="#222" stroke="#222" stroke-width="0.25">60</text>
<text transform="translate(164.00,582.00) scale(0.72,1)" font-size="7.2" text-anchor="middle" fill="#222" stroke="#222" stroke-width="0.25">0</text>
<text transform="translate(186.90,582.00) scale(0.72,1)" font-size="7.2" text-anchor="middle" fill="#222" stroke="#222" stroke-width="0.25">500</text>
<text transform="translate(209.80,582.00) scale(0.72,1)" font-size="7.2" text-anchor="middle" fill="#222" stroke="#222" stroke-width="0.25">1000</text>
<text transform="translate(232.70,582.00) scale(0.72,1)" font-size="7.2" text-anchor="middle" fill="#222" stroke="#222" stroke-width="0.25">1500</text>
<text transform="translate(255.60,582.00) scale(0.72,1)" font-size="7.2" text-anchor="middle" fill="#222" stroke="#222" stroke-width="0.25">2000</text>
<text transform="translate(148.10,529.60) rotate(-90)" font-size="10.5" text-anchor="middle" fill="#000">Pixels</text>
<path d="M164.30,694.00V643.49H165.10V694.00ZM165.10,694.00V649.81H165.90V694.00ZM165.90,694.00V646.65H166.50V694.00ZM166.50,694.00V637.18H167.80V694.00ZM167.80,694.00V640.34H169.70V694.00ZM169.70,694.00V624.55H171.00V694.00ZM171.00,694.00V615.08H172.30V694.00ZM172.30,694.00V608.77H173.90V694.00ZM173.90,694.00V629.29H175.50V694.00ZM175.50,694.00V637.18H176.60V694.00ZM176.60,694.00V624.55H178.20V694.00ZM178.20,694.00V627.71H179.80V694.00ZM179.80,694.00V641.05H181.00V694.00ZM181.00,694.00V637.18H182.20V694.00ZM182.20,694.00V621.40H183.80V694.00ZM183.80,694.00V632.44H185.40V694.00ZM185.40,694.00V639.08H186.85V694.00ZM186.85,694.00V637.18H188.30V694.00ZM188.30,694.00V627.71H189.90V694.00ZM189.90,694.00V637.18H191.50V694.00ZM191.50,694.00V653.59H193.40V694.00ZM193.40,694.00V640.34H195.00V694.00ZM195.00,694.00V656.12H196.00V694.00ZM196.00,694.00V608.77H197.20V694.00ZM197.20,694.00V659.28H198.50V694.00ZM198.50,694.00V646.65H199.80V694.00ZM199.80,694.00V656.12H201.40V694.00ZM201.40,694.00V646.65H202.70V694.00ZM202.70,694.00V665.59H204.30V694.00ZM204.30,694.00V659.28H206.20V694.00ZM206.20,694.00V662.43H207.80V694.00ZM207.80,694.00V652.96H209.10V694.00ZM209.10,694.00V662.43H211.00V694.00ZM211.00,694.00V671.90H212.60V694.00ZM212.60,694.00V659.28H214.60V694.00ZM214.60,694.00V676.64H215.90V694.00ZM215.90,694.00V659.48H217.25V694.00ZM217.25,694.00V659.28H218.60V694.00ZM218.60,694.00V668.75H220.70V694.00ZM220.70,694.00V678.22H222.30V694.00ZM222.30,694.00V681.37H224.20V694.00ZM224.20,694.00V682.95H226.10V694.00ZM226.10,694.00V671.90H227.70V694.00ZM227.70,694.00V686.11H229.30V694.00ZM229.30,694.00V692.42H230.60V694.00ZM230.60,694.00V685.09H231.80V694.00ZM231.80,694.00V684.53H233.00V694.00ZM233.00,694.00V690.84H233.80V694.00ZM233.80,694.00V678.22H235.40V694.00ZM235.40,694.00V684.53H237.00V694.00ZM239.90,694.00V690.85H241.60V694.00ZM241.60,694.00V691.03H243.30V694.00ZM243.30,694.00V690.84H245.00V694.00ZM245.00,694.00V687.69H246.90V694.00ZM250.10,694.00V690.84H251.40V694.00Z" fill="#ff0000"/>
<path d="M164.30,694.00V643.49H165.10M165.10,643.49V649.81H165.90M165.90,649.81V646.65H166.50M166.50,646.65V637.18H167.80M167.80,637.18V640.34H169.70M169.70,640.34V624.55H171.00M171.00,624.55V615.08H172.30M172.30,615.08V608.77H173.90M173.90,608.77V629.29H175.50M175.50,629.29V637.18H176.60M176.60,637.18V624.55H178.20M178.20,624.55V627.71H179.80M179.80,627.71V641.05H181.00M181.00,641.05V637.18H182.20M182.20,637.18V621.40H183.80M183.80,621.40V632.44H185.40M185.40,632.44V639.08H186.85M186.85,639.08V637.18H188.30M188.30,637.18V627.71H189.90M189.90,627.71V637.18H191.50M191.50,637.18V653.59H193.40M193.40,653.59V640.34H195.00M195.00,640.34V656.12H196.00M196.00,656.12V608.77H197.20M197.20,608.77V659.28H198.50M198.50,659.28V646.65H199.80M199.80,646.65V656.12H201.40M201.40,656.12V646.65H202.70M202.70,646.65V665.59H204.30M204.30,665.59V659.28H206.20M206.20,659.28V662.43H207.80M207.80,662.43V652.96H209.10M209.10,652.96V662.43H211.00M211.00,662.43V671.90H212.60M212.60,671.90V659.28H214.60M214.60,659.28V676.64H215.90M215.90,676.64V659.48H217.25M217.25,659.48V659.28H218.60M218.60,659.28V668.75H220.70M220.70,668.75V678.22H222.30M222.30,678.22V681.37H224.20M224.20,681.37V682.95H226.10M226.10,682.95V671.90H227.70M227.70,671.90V686.11H229.30M229.30,686.11V692.42H230.60M230.60,692.42V685.09H231.80M231.80,685.09V684.53H233.00M233.00,684.53V690.84H233.80M233.80,690.84V678.22H235.40M235.40,678.22V684.53H237.00M239.90,684.53V690.85H241.60M241.60,690.85V691.03H243.30M243.30,691.03V690.84H245.00M245.00,690.84V687.69H246.90M250.10,687.69V690.84H251.40V694.00" stroke="#b81414" stroke-width="0.55" fill="none"/>
<rect x="164.0" y="599.3" width="91.6" height="94.70000000000005" fill="none" stroke="#222" stroke-width="1.1"/>
<text transform="translate(161.90,696.50) scale(0.8,1)" font-size="7.0" text-anchor="end" fill="#222" stroke="#222" stroke-width="0.25">0</text>
<text transform="translate(161.90,680.72) scale(0.8,1)" font-size="7.0" text-anchor="end" fill="#222" stroke="#222" stroke-width="0.25">5</text>
<text transform="translate(161.90,664.93) scale(0.8,1)" font-size="7.0" text-anchor="end" fill="#222" stroke="#222" stroke-width="0.25">10</text>
<text transform="translate(161.90,649.15) scale(0.8,1)" font-size="7.0" text-anchor="end" fill="#222" stroke="#222" stroke-width="0.25">15</text>
<text transform="translate(161.90,633.37) scale(0.8,1)" font-size="7.0" text-anchor="end" fill="#222" stroke="#222" stroke-width="0.25">20</text>
<text transform="translate(161.90,617.58) scale(0.8,1)" font-size="7.0" text-anchor="end" fill="#222" stroke="#222" stroke-width="0.25">25</text>
<text transform="translate(161.90,601.80) scale(0.8,1)" font-size="7.0" text-anchor="end" fill="#222" stroke="#222" stroke-width="0.25">30</text>
<text transform="translate(164.00,702.80) scale(0.72,1)" font-size="7.2" text-anchor="middle" fill="#222" stroke="#222" stroke-width="0.25">0</text>
<text transform="translate(186.90,702.80) scale(0.72,1)" font-size="7.2" text-anchor="middle" fill="#222" stroke="#222" stroke-width="0.25">500</text>
<text transform="translate(209.80,702.80) scale(0.72,1)" font-size="7.2" text-anchor="middle" fill="#222" stroke="#222" stroke-width="0.25">1000</text>
<text transform="translate(232.70,702.80) scale(0.72,1)" font-size="7.2" text-anchor="middle" fill="#222" stroke="#222" stroke-width="0.25">1500</text>
<text transform="translate(255.60,702.80) scale(0.72,1)" font-size="7.2" text-anchor="middle" fill="#222" stroke="#222" stroke-width="0.25">2000</text>
<text transform="translate(148.10,649.00) rotate(-90)" font-size="10.5" text-anchor="middle" fill="#000">Pixels</text>
<text transform="translate(212.30,717.30)" font-size="10.5" text-anchor="middle" fill="#000">MTR Fluorescence</text>
<defs>
<filter id="tx1" x="-20%" y="-20%" width="140%" height="140%">
 <feTurbulence type="fractalNoise" baseFrequency="0.25" numOctaves="2" seed="4" result="n"/>
 <feColorMatrix in="n" type="matrix" values="0 0 0 0 0.85  0 0 0 0 0.25  0 0 0 0 0.3  1.8 0 0 0 -0.75" result="c"/>
 <feComposite in="c" in2="SourceGraphic" operator="in" result="t"/>
 <feMerge><feMergeNode in="SourceGraphic"/><feMergeNode in="t"/></feMerge>
 <feGaussianBlur stdDeviation="0.6"/>
</filter>
<filter id="tx2" x="-20%" y="-20%" width="140%" height="140%">
 <feTurbulence type="fractalNoise" baseFrequency="0.55" numOctaves="1" seed="9" result="n"/>
 <feColorMatrix in="n" type="matrix" values="0 0 0 0 0.88  0 0 0 0 0.87  0 0 0 0 0.87  3.0 0 0 0 -1.95" result="w"/>
 <feComposite in="w" in2="SourceGraphic" operator="in" result="tw"/>
 <feTurbulence type="fractalNoise" baseFrequency="0.42" numOctaves="2" seed="2" result="n2"/>
 <feColorMatrix in="n2" type="matrix" values="0 0 0 0 0.8  0 0 0 0 0.3  0 0 0 0 0.35  2.2 0 0 0 -1.0" result="r"/>
 <feComposite in="r" in2="SourceGraphic" operator="in" result="tr"/>
 <feMerge><feMergeNode in="SourceGraphic"/><feMergeNode in="tr"/><feMergeNode in="tw"/></feMerge>
 <feGaussianBlur stdDeviation="0.45"/>
</filter>
<filter id="tx3" x="-20%" y="-20%" width="140%" height="140%">
 <feTurbulence type="fractalNoise" baseFrequency="0.6" numOctaves="1" seed="5" result="n2"/>
 <feColorMatrix in="n2" type="matrix" values="0 0 0 0 0.86  0 0 0 0 0.3  0 0 0 0 0.35  2.2 0 0 0 -0.9" result="r"/>
 <feComposite in="r" in2="SourceGraphic" operator="in" result="tr"/>
 <feMerge><feMergeNode in="SourceGraphic"/><feMergeNode in="tr"/></feMerge>
 <feGaussianBlur stdDeviation="0.45"/>
</filter>
<filter id="bl" x="-20%" y="-20%" width="140%" height="140%"><feGaussianBlur stdDeviation="0.45"/></filter>
<filter id="bl2" x="-20%" y="-20%" width="140%" height="140%"><feGaussianBlur stdDeviation="1.2"/></filter>
</defs>
<clipPath id="c1"><rect x="23.7" y="358.8" width="104.6" height="103.8"/></clipPath>
<g clip-path="url(#c1)">
<rect x="23.7" y="358.8" width="104.6" height="103.8" fill="#727171"/>
<path d="M105.07,373.31C106.58,371.40 110.10,368.89 112.61,368.35C115.13,367.81 118.28,368.53 120.15,370.08C122.02,371.62 123.35,375.10 123.81,377.61C124.28,380.13 123.92,383.00 122.95,385.15C121.98,387.31 120.08,389.46 118.00,390.54C115.91,391.61 112.61,392.33 110.46,391.61C108.30,390.90 106.22,388.20 105.07,386.23C103.93,384.26 103.57,381.92 103.57,379.77C103.57,377.61 103.57,375.21 105.07,373.31Z" fill="#7e5e62" fill-opacity="1" filter="url(#tx1)"/>
<clipPath id="r1_0"><path d="M105.07,373.31C106.58,371.40 110.10,368.89 112.61,368.35C115.13,367.81 118.28,368.53 120.15,370.08C122.02,371.62 123.35,375.10 123.81,377.61C124.28,380.13 123.92,383.00 122.95,385.15C121.98,387.31 120.08,389.46 118.00,390.54C115.91,391.61 112.61,392.33 110.46,391.61C108.30,390.90 106.22,388.20 105.07,386.23C103.93,384.26 103.57,381.92 103.57,379.77C103.57,377.61 103.57,375.21 105.07,373.31Z"/></clipPath>
<path d="M105.07,373.31C106.58,371.40 110.10,368.89 112.61,368.35C115.13,367.81 118.28,368.53 120.15,370.08C122.02,371.62 123.35,375.10 123.81,377.61C124.28,380.13 123.92,383.00 122.95,385.15C121.98,387.31 120.08,389.46 118.00,390.54C115.91,391.61 112.61,392.33 110.46,391.61C108.30,390.90 106.22,388.20 105.07,386.23C103.93,384.26 103.57,381.92 103.57,379.77C103.57,377.61 103.57,375.21 105.07,373.31Z" fill="none" stroke="#e0283a" stroke-opacity="0.5" stroke-width="6" clip-path="url(#r1_0)" filter="url(#bl2)"/>
<path d="M105.07,373.31C106.58,371.40 110.10,368.89 112.61,368.35C115.13,367.81 118.28,368.53 120.15,370.08C122.02,371.62 123.35,375.10 123.81,377.61C124.28,380.13 123.92,383.00 122.95,385.15C121.98,387.31 120.08,389.46 118.00,390.54C115.91,391.61 112.61,392.33 110.46,391.61C108.30,390.90 106.22,388.20 105.07,386.23C103.93,384.26 103.57,381.92 103.57,379.77C103.57,377.61 103.57,375.21 105.07,373.31Z" fill="none" stroke="#e6dada" stroke-width="1.1" filter="url(#bl)"/>
<path d="M82.46,363.62C84.25,362.54 88.85,360.74 91.07,361.46C93.30,362.18 94.92,365.05 95.81,367.92C96.71,370.79 96.89,375.46 96.46,378.69C96.03,381.92 94.48,385.15 93.23,387.31C91.97,389.46 90.54,391.61 88.92,391.61C87.31,391.61 84.97,389.82 83.54,387.31C82.10,384.79 80.84,379.77 80.31,376.54C79.77,373.31 79.95,370.08 80.31,367.92C80.66,365.77 80.66,364.69 82.46,363.62Z" fill="#7a6266" fill-opacity="0.5" filter="url(#tx1)"/>
<clipPath id="r1_1"><path d="M82.46,363.62C84.25,362.54 88.85,360.74 91.07,361.46C93.30,362.18 94.92,365.05 95.81,367.92C96.71,370.79 96.89,375.46 96.46,378.69C96.03,381.92 94.48,385.15 93.23,387.31C91.97,389.46 90.54,391.61 88.92,391.61C87.31,391.61 84.97,389.82 83.54,387.31C82.10,384.79 80.84,379.77 80.31,376.54C79.77,373.31 79.95,370.08 80.31,367.92C80.66,365.77 80.66,364.69 82.46,363.62Z"/></clipPath>
<path d="M82.46,363.62C84.25,362.54 88.85,360.74 91.07,361.46C93.30,362.18 94.92,365.05 95.81,367.92C96.71,370.79 96.89,375.46 96.46,378.69C96.03,381.92 94.48,385.15 93.23,387.31C91.97,389.46 90.54,391.61 88.92,391.61C87.31,391.61 84.97,389.82 83.54,387.31C82.10,384.79 80.84,379.77 80.31,376.54C79.77,373.31 79.95,370.08 80.31,367.92C80.66,365.77 80.66,364.69 82.46,363.62Z" fill="none" stroke="#d83040" stroke-opacity="0.25" stroke-width="5" clip-path="url(#r1_1)" filter="url(#bl2)"/>
<path d="M76.00,400.23C77.86,398.79 81.92,396.82 84.61,397.00C87.31,397.18 90.36,399.15 92.15,401.31C93.95,403.46 95.20,407.23 95.38,409.92C95.56,412.61 94.66,415.31 93.23,417.46C91.79,419.61 89.10,422.31 86.77,422.84C84.43,423.38 81.38,422.31 79.23,420.69C77.08,419.07 74.81,415.66 73.84,413.15C72.88,410.64 73.05,407.77 73.41,405.61C73.77,403.46 74.13,401.67 76.00,400.23Z" fill="#7a6064" fill-opacity="0.6" filter="url(#tx1)"/>
<clipPath id="r1_2"><path d="M76.00,400.23C77.86,398.79 81.92,396.82 84.61,397.00C87.31,397.18 90.36,399.15 92.15,401.31C93.95,403.46 95.20,407.23 95.38,409.92C95.56,412.61 94.66,415.31 93.23,417.46C91.79,419.61 89.10,422.31 86.77,422.84C84.43,423.38 81.38,422.31 79.23,420.69C77.08,419.07 74.81,415.66 73.84,413.15C72.88,410.64 73.05,407.77 73.41,405.61C73.77,403.46 74.13,401.67 76.00,400.23Z"/></clipPath>
<path d="M76.00,400.23C77.86,398.79 81.92,396.82 84.61,397.00C87.31,397.18 90.36,399.15 92.15,401.31C93.95,403.46 95.20,407.23 95.38,409.92C95.56,412.61 94.66,415.31 93.23,417.46C91.79,419.61 89.10,422.31 86.77,422.84C84.43,423.38 81.38,422.31 79.23,420.69C77.08,419.07 74.81,415.66 73.84,413.15C72.88,410.64 73.05,407.77 73.41,405.61C73.77,403.46 74.13,401.67 76.00,400.23Z" fill="none" stroke="#e02838" stroke-opacity="0.5" stroke-width="6" clip-path="url(#r1_2)" filter="url(#bl2)"/>
<path d="M26.46,411.00C28.18,409.56 32.20,408.84 35.08,409.92C37.95,411.00 41.72,414.77 43.69,417.46C45.67,420.15 47.28,423.56 46.92,426.07C46.56,428.59 43.87,431.64 41.54,432.54C39.20,433.43 35.44,432.54 32.92,431.46C30.41,430.38 27.83,428.23 26.46,426.07C25.10,423.92 24.74,421.05 24.74,418.54C24.74,416.02 24.74,412.43 26.46,411.00Z" fill="#7a6266" fill-opacity="0.45" filter="url(#tx1)"/>
<clipPath id="r1_3"><path d="M26.46,411.00C28.18,409.56 32.20,408.84 35.08,409.92C37.95,411.00 41.72,414.77 43.69,417.46C45.67,420.15 47.28,423.56 46.92,426.07C46.56,428.59 43.87,431.64 41.54,432.54C39.20,433.43 35.44,432.54 32.92,431.46C30.41,430.38 27.83,428.23 26.46,426.07C25.10,423.92 24.74,421.05 24.74,418.54C24.74,416.02 24.74,412.43 26.46,411.00Z"/></clipPath>
<path d="M26.46,411.00C28.18,409.56 32.20,408.84 35.08,409.92C37.95,411.00 41.72,414.77 43.69,417.46C45.67,420.15 47.28,423.56 46.92,426.07C46.56,428.59 43.87,431.64 41.54,432.54C39.20,433.43 35.44,432.54 32.92,431.46C30.41,430.38 27.83,428.23 26.46,426.07C25.10,423.92 24.74,421.05 24.74,418.54C24.74,416.02 24.74,412.43 26.46,411.00Z" fill="none" stroke="#d83040" stroke-opacity="0.25" stroke-width="5" clip-path="url(#r1_3)" filter="url(#bl2)"/>
<path d="M50.15,430.38C51.77,428.05 55.36,426.97 57.69,427.15C60.02,427.33 62.72,429.13 64.15,431.46C65.59,433.79 66.49,437.74 66.31,441.15C66.13,444.56 64.69,449.59 63.08,451.92C61.46,454.25 58.77,455.33 56.61,455.15C54.46,454.97 51.59,453.18 50.15,450.84C48.72,448.51 48.00,444.56 48.00,441.15C48.00,437.74 48.54,432.72 50.15,430.38Z" fill="#7a6064" fill-opacity="0.6" filter="url(#tx1)"/>
<clipPath id="r1_4"><path d="M50.15,430.38C51.77,428.05 55.36,426.97 57.69,427.15C60.02,427.33 62.72,429.13 64.15,431.46C65.59,433.79 66.49,437.74 66.31,441.15C66.13,444.56 64.69,449.59 63.08,451.92C61.46,454.25 58.77,455.33 56.61,455.15C54.46,454.97 51.59,453.18 50.15,450.84C48.72,448.51 48.00,444.56 48.00,441.15C48.00,437.74 48.54,432.72 50.15,430.38Z"/></clipPath>
<path d="M50.15,430.38C51.77,428.05 55.36,426.97 57.69,427.15C60.02,427.33 62.72,429.13 64.15,431.46C65.59,433.79 66.49,437.74 66.31,441.15C66.13,444.56 64.69,449.59 63.08,451.92C61.46,454.25 58.77,455.33 56.61,455.15C54.46,454.97 51.59,453.18 50.15,450.84C48.72,448.51 48.00,444.56 48.00,441.15C48.00,437.74 48.54,432.72 50.15,430.38Z" fill="none" stroke="#e02838" stroke-opacity="0.5" stroke-width="6" clip-path="url(#r1_4)" filter="url(#bl2)"/>
<rect x="23.7" y="461.40" width="104.6" height="1.2" fill="#4a4a4a" fill-opacity="0.45"/>
</g>
<rect x="23.7" y="358.8" width="1.6" height="103.8" fill="#5a5a5a" fill-opacity="0.35"/>
<rect x="25.3" y="358.8" width="2" height="103.8" fill="#5a5a5a" fill-opacity="0.18"/>
<clipPath id="c2"><rect x="23.2" y="477.1" width="105.0" height="104.4"/></clipPath>
<g clip-path="url(#c2)">
<rect x="23.2" y="477.1" width="105.0" height="104.4" fill="#7c7a7a"/>
<path d="M15.69,487.23C17.13,483.82 21.79,485.61 24.31,486.15C26.82,486.69 29.33,488.49 30.77,490.46C32.20,492.44 32.92,495.49 32.92,498.00C32.92,500.51 32.20,503.74 30.77,505.54C29.33,507.33 26.82,508.59 24.31,508.77C21.79,508.95 17.13,510.20 15.69,506.61C14.26,503.02 14.26,490.64 15.69,487.23Z" fill="#857b7c" fill-opacity="1" filter="url(#tx2)"/>
<clipPath id="r2_0"><path d="M15.69,487.23C17.13,483.82 21.79,485.61 24.31,486.15C26.82,486.69 29.33,488.49 30.77,490.46C32.20,492.44 32.92,495.49 32.92,498.00C32.92,500.51 32.20,503.74 30.77,505.54C29.33,507.33 26.82,508.59 24.31,508.77C21.79,508.95 17.13,510.20 15.69,506.61C14.26,503.02 14.26,490.64 15.69,487.23Z"/></clipPath>
<path d="M15.69,487.23C17.13,483.82 21.79,485.61 24.31,486.15C26.82,486.69 29.33,488.49 30.77,490.46C32.20,492.44 32.92,495.49 32.92,498.00C32.92,500.51 32.20,503.74 30.77,505.54C29.33,507.33 26.82,508.59 24.31,508.77C21.79,508.95 17.13,510.20 15.69,506.61C14.26,503.02 14.26,490.64 15.69,487.23Z" fill="none" stroke="#c03040" stroke-opacity="0.32" stroke-width="5" clip-path="url(#r2_0)" filter="url(#bl2)"/>
<path d="M15.69,487.23C17.13,483.82 21.79,485.61 24.31,486.15C26.82,486.69 29.33,488.49 30.77,490.46C32.20,492.44 32.92,495.49 32.92,498.00C32.92,500.51 32.20,503.74 30.77,505.54C29.33,507.33 26.82,508.59 24.31,508.77C21.79,508.95 17.13,510.20 15.69,506.61C14.26,503.02 14.26,490.64 15.69,487.23Z" fill="none" stroke="#2a2828" stroke-width="1.1" filter="url(#bl)"/>
<path d="M55.54,481.85C57.33,480.41 60.56,478.44 63.08,478.62C65.59,478.79 68.89,480.77 70.61,482.92C72.34,485.08 73.05,488.67 73.41,491.54C73.77,494.41 73.59,497.82 72.77,500.15C71.94,502.49 70.25,504.46 68.46,505.54C66.67,506.61 63.97,507.15 62.00,506.61C60.02,506.08 57.87,504.46 56.61,502.31C55.36,500.15 55.18,496.20 54.46,493.69C53.74,491.18 52.13,489.20 52.31,487.23C52.49,485.26 53.74,483.28 55.54,481.85Z" fill="#857b7c" fill-opacity="1" filter="url(#tx2)"/>
<clipPath id="r2_1"><path d="M55.54,481.85C57.33,480.41 60.56,478.44 63.08,478.62C65.59,478.79 68.89,480.77 70.61,482.92C72.34,485.08 73.05,488.67 73.41,491.54C73.77,494.41 73.59,497.82 72.77,500.15C71.94,502.49 70.25,504.46 68.46,505.54C66.67,506.61 63.97,507.15 62.00,506.61C60.02,506.08 57.87,504.46 56.61,502.31C55.36,500.15 55.18,496.20 54.46,493.69C53.74,491.18 52.13,489.20 52.31,487.23C52.49,485.26 53.74,483.28 55.54,481.85Z"/></clipPath>
<path d="M55.54,481.85C57.33,480.41 60.56,478.44 63.08,478.62C65.59,478.79 68.89,480.77 70.61,482.92C72.34,485.08 73.05,488.67 73.41,491.54C73.77,494.41 73.59,497.82 72.77,500.15C71.94,502.49 70.25,504.46 68.46,505.54C66.67,506.61 63.97,507.15 62.00,506.61C60.02,506.08 57.87,504.46 56.61,502.31C55.36,500.15 55.18,496.20 54.46,493.69C53.74,491.18 52.13,489.20 52.31,487.23C52.49,485.26 53.74,483.28 55.54,481.85Z" fill="none" stroke="#c03040" stroke-opacity="0.32" stroke-width="5" clip-path="url(#r2_1)" filter="url(#bl2)"/>
<path d="M55.54,481.85C57.33,480.41 60.56,478.44 63.08,478.62C65.59,478.79 68.89,480.77 70.61,482.92C72.34,485.08 73.05,488.67 73.41,491.54C73.77,494.41 73.59,497.82 72.77,500.15C71.94,502.49 70.25,504.46 68.46,505.54C66.67,506.61 63.97,507.15 62.00,506.61C60.02,506.08 57.87,504.46 56.61,502.31C55.36,500.15 55.18,496.20 54.46,493.69C53.74,491.18 52.13,489.20 52.31,487.23C52.49,485.26 53.74,483.28 55.54,481.85Z" fill="none" stroke="#2a2828" stroke-width="1.1" filter="url(#bl)"/>
<path d="M97.54,493.69C99.15,491.18 102.92,489.74 106.15,489.38C109.38,489.03 114.41,489.74 116.92,491.54C119.43,493.33 120.69,497.10 121.23,500.15C121.77,503.20 121.23,507.33 120.15,509.84C119.07,512.36 117.10,514.33 114.77,515.23C112.43,516.13 108.66,515.77 106.15,515.23C103.64,514.69 101.31,513.79 99.69,512.00C98.07,510.20 96.82,507.51 96.46,504.46C96.10,501.41 95.92,496.20 97.54,493.69Z" fill="#857b7c" fill-opacity="1" filter="url(#tx2)"/>
<clipPath id="r2_2"><path d="M97.54,493.69C99.15,491.18 102.92,489.74 106.15,489.38C109.38,489.03 114.41,489.74 116.92,491.54C119.43,493.33 120.69,497.10 121.23,500.15C121.77,503.20 121.23,507.33 120.15,509.84C119.07,512.36 117.10,514.33 114.77,515.23C112.43,516.13 108.66,515.77 106.15,515.23C103.64,514.69 101.31,513.79 99.69,512.00C98.07,510.20 96.82,507.51 96.46,504.46C96.10,501.41 95.92,496.20 97.54,493.69Z"/></clipPath>
<path d="M97.54,493.69C99.15,491.18 102.92,489.74 106.15,489.38C109.38,489.03 114.41,489.74 116.92,491.54C119.43,493.33 120.69,497.10 121.23,500.15C121.77,503.20 121.23,507.33 120.15,509.84C119.07,512.36 117.10,514.33 114.77,515.23C112.43,516.13 108.66,515.77 106.15,515.23C103.64,514.69 101.31,513.79 99.69,512.00C98.07,510.20 96.82,507.51 96.46,504.46C96.10,501.41 95.92,496.20 97.54,493.69Z" fill="none" stroke="#c03040" stroke-opacity="0.32" stroke-width="5" clip-path="url(#r2_2)" filter="url(#bl2)"/>
<path d="M97.54,493.69C99.15,491.18 102.92,489.74 106.15,489.38C109.38,489.03 114.41,489.74 116.92,491.54C119.43,493.33 120.69,497.10 121.23,500.15C121.77,503.20 121.23,507.33 120.15,509.84C119.07,512.36 117.10,514.33 114.77,515.23C112.43,516.13 108.66,515.77 106.15,515.23C103.64,514.69 101.31,513.79 99.69,512.00C98.07,510.20 96.82,507.51 96.46,504.46C96.10,501.41 95.92,496.20 97.54,493.69Z" fill="none" stroke="#d4c4c6" stroke-width="1.1" filter="url(#bl)"/>
<path d="M55.54,524.92C56.87,523.67 59.49,521.69 62.00,521.69C64.51,521.69 68.21,523.13 70.61,524.92C73.02,526.72 74.99,529.77 76.43,532.46C77.86,535.15 79.12,538.20 79.23,541.07C79.34,543.95 78.51,547.54 77.08,549.69C75.64,551.84 72.95,553.46 70.61,554.00C68.28,554.54 65.05,554.18 63.08,552.92C61.10,551.66 60.02,549.15 58.77,546.46C57.51,543.77 56.33,539.64 55.54,536.77C54.75,533.90 54.03,531.20 54.03,529.23C54.03,527.25 54.21,526.18 55.54,524.92Z" fill="#857b7c" fill-opacity="1" filter="url(#tx2)"/>
<clipPath id="r2_3"><path d="M55.54,524.92C56.87,523.67 59.49,521.69 62.00,521.69C64.51,521.69 68.21,523.13 70.61,524.92C73.02,526.72 74.99,529.77 76.43,532.46C77.86,535.15 79.12,538.20 79.23,541.07C79.34,543.95 78.51,547.54 77.08,549.69C75.64,551.84 72.95,553.46 70.61,554.00C68.28,554.54 65.05,554.18 63.08,552.92C61.10,551.66 60.02,549.15 58.77,546.46C57.51,543.77 56.33,539.64 55.54,536.77C54.75,533.90 54.03,531.20 54.03,529.23C54.03,527.25 54.21,526.18 55.54,524.92Z"/></clipPath>
<path d="M55.54,524.92C56.87,523.67 59.49,521.69 62.00,521.69C64.51,521.69 68.21,523.13 70.61,524.92C73.02,526.72 74.99,529.77 76.43,532.46C77.86,535.15 79.12,538.20 79.23,541.07C79.34,543.95 78.51,547.54 77.08,549.69C75.64,551.84 72.95,553.46 70.61,554.00C68.28,554.54 65.05,554.18 63.08,552.92C61.10,551.66 60.02,549.15 58.77,546.46C57.51,543.77 56.33,539.64 55.54,536.77C54.75,533.90 54.03,531.20 54.03,529.23C54.03,527.25 54.21,526.18 55.54,524.92Z" fill="none" stroke="#c03040" stroke-opacity="0.32" stroke-width="5" clip-path="url(#r2_3)" filter="url(#bl2)"/>
<path d="M55.54,524.92C56.87,523.67 59.49,521.69 62.00,521.69C64.51,521.69 68.21,523.13 70.61,524.92C73.02,526.72 74.99,529.77 76.43,532.46C77.86,535.15 79.12,538.20 79.23,541.07C79.34,543.95 78.51,547.54 77.08,549.69C75.64,551.84 72.95,553.46 70.61,554.00C68.28,554.54 65.05,554.18 63.08,552.92C61.10,551.66 60.02,549.15 58.77,546.46C57.51,543.77 56.33,539.64 55.54,536.77C54.75,533.90 54.03,531.20 54.03,529.23C54.03,527.25 54.21,526.18 55.54,524.92Z" fill="none" stroke="#2a2828" stroke-width="1.1" filter="url(#bl)"/>
<path d="M29.69,538.92C31.67,537.31 35.26,538.56 37.23,540.00C39.20,541.43 40.46,544.13 41.54,547.54C42.61,550.95 43.69,556.51 43.69,560.46C43.69,564.41 42.97,568.71 41.54,571.23C40.10,573.74 37.41,575.18 35.08,575.54C32.74,575.89 29.26,575.54 27.54,573.38C25.82,571.23 25.10,566.56 24.74,562.61C24.38,558.66 24.56,553.64 25.38,549.69C26.21,545.74 27.72,540.54 29.69,538.92Z" fill="#857b7c" fill-opacity="1" filter="url(#tx2)"/>
<clipPath id="r2_4"><path d="M29.69,538.92C31.67,537.31 35.26,538.56 37.23,540.00C39.20,541.43 40.46,544.13 41.54,547.54C42.61,550.95 43.69,556.51 43.69,560.46C43.69,564.41 42.97,568.71 41.54,571.23C40.10,573.74 37.41,575.18 35.08,575.54C32.74,575.89 29.26,575.54 27.54,573.38C25.82,571.23 25.10,566.56 24.74,562.61C24.38,558.66 24.56,553.64 25.38,549.69C26.21,545.74 27.72,540.54 29.69,538.92Z"/></clipPath>
<path d="M29.69,538.92C31.67,537.31 35.26,538.56 37.23,540.00C39.20,541.43 40.46,544.13 41.54,547.54C42.61,550.95 43.69,556.51 43.69,560.46C43.69,564.41 42.97,568.71 41.54,571.23C40.10,573.74 37.41,575.18 35.08,575.54C32.74,575.89 29.26,575.54 27.54,573.38C25.82,571.23 25.10,566.56 24.74,562.61C24.38,558.66 24.56,553.64 25.38,549.69C26.21,545.74 27.72,540.54 29.69,538.92Z" fill="none" stroke="#c03040" stroke-opacity="0.3" stroke-width="5" clip-path="url(#r2_4)" filter="url(#bl2)"/>
<path d="M29.69,538.92C31.67,537.31 35.26,538.56 37.23,540.00C39.20,541.43 40.46,544.13 41.54,547.54C42.61,550.95 43.69,556.51 43.69,560.46C43.69,564.41 42.97,568.71 41.54,571.23C40.10,573.74 37.41,575.18 35.08,575.54C32.74,575.89 29.26,575.54 27.54,573.38C25.82,571.23 25.10,566.56 24.74,562.61C24.38,558.66 24.56,553.64 25.38,549.69C26.21,545.74 27.72,540.54 29.69,538.92Z" fill="none" stroke="#505050" stroke-width="0.9" filter="url(#bl)"/>
<path d="M62.00,565.84C63.97,564.05 68.46,562.07 71.69,561.54C74.92,561.00 78.87,561.36 81.38,562.61C83.90,563.87 86.05,566.56 86.77,569.07C87.49,571.59 87.84,575.36 85.69,577.69C83.54,580.02 77.61,582.53 73.84,583.07C70.08,583.61 65.41,582.71 63.08,580.92C60.74,579.12 60.02,574.82 59.84,572.30C59.67,569.79 60.02,567.64 62.00,565.84Z" fill="#857b7c" fill-opacity="1" filter="url(#tx2)"/>
<clipPath id="r2_5"><path d="M62.00,565.84C63.97,564.05 68.46,562.07 71.69,561.54C74.92,561.00 78.87,561.36 81.38,562.61C83.90,563.87 86.05,566.56 86.77,569.07C87.49,571.59 87.84,575.36 85.69,577.69C83.54,580.02 77.61,582.53 73.84,583.07C70.08,583.61 65.41,582.71 63.08,580.92C60.74,579.12 60.02,574.82 59.84,572.30C59.67,569.79 60.02,567.64 62.00,565.84Z"/></clipPath>
<path d="M62.00,565.84C63.97,564.05 68.46,562.07 71.69,561.54C74.92,561.00 78.87,561.36 81.38,562.61C83.90,563.87 86.05,566.56 86.77,569.07C87.49,571.59 87.84,575.36 85.69,577.69C83.54,580.02 77.61,582.53 73.84,583.07C70.08,583.61 65.41,582.71 63.08,580.92C60.74,579.12 60.02,574.82 59.84,572.30C59.67,569.79 60.02,567.64 62.00,565.84Z" fill="none" stroke="#c03040" stroke-opacity="0.32" stroke-width="5" clip-path="url(#r2_5)" filter="url(#bl2)"/>
<path d="M62.00,565.84C63.97,564.05 68.46,562.07 71.69,561.54C74.92,561.00 78.87,561.36 81.38,562.61C83.90,563.87 86.05,566.56 86.77,569.07C87.49,571.59 87.84,575.36 85.69,577.69C83.54,580.02 77.61,582.53 73.84,583.07C70.08,583.61 65.41,582.71 63.08,580.92C60.74,579.12 60.02,574.82 59.84,572.30C59.67,569.79 60.02,567.64 62.00,565.84Z" fill="none" stroke="#2a2828" stroke-width="1.1" filter="url(#bl)"/>
<rect x="23.2" y="580.30" width="105.0" height="1.2" fill="#4a4a4a" fill-opacity="0.45"/>
</g>
<circle cx="108.8" cy="570.5" r="5" fill="#737171" stroke="#666" stroke-width="1" filter="url(#bl)"/>
<circle cx="109.6" cy="555.2" r="1.6" fill="#a8a8a8" filter="url(#bl)"/>
<circle cx="40" cy="514" r="1.3" fill="#a0a0a0" filter="url(#bl)"/>
<clipPath id="c3"><rect x="23.8" y="596.7" width="104.6" height="104.3"/></clipPath>
<g clip-path="url(#c3)">
<rect x="23.8" y="596.7" width="104.6" height="104.3" fill="#888787"/>
<path d="M52.31,613.69C53.74,611.18 56.61,608.49 59.84,607.23C63.08,605.97 68.28,605.79 71.69,606.15C75.10,606.51 78.15,607.41 80.31,609.38C82.46,611.36 83.36,615.13 84.61,618.00C85.87,620.87 87.66,623.92 87.84,626.61C88.02,629.31 87.66,632.18 85.69,634.15C83.72,636.13 79.41,637.92 76.00,638.46C72.59,639.00 68.64,638.46 65.23,637.38C61.82,636.31 57.87,634.51 55.54,632.00C53.20,629.49 51.77,625.36 51.23,622.31C50.69,619.26 50.87,616.20 52.31,613.69Z" fill="#857b7c" fill-opacity="1" filter="url(#tx2)"/>
<clipPath id="r3_0"><path d="M52.31,613.69C53.74,611.18 56.61,608.49 59.84,607.23C63.08,605.97 68.28,605.79 71.69,606.15C75.10,606.51 78.15,607.41 80.31,609.38C82.46,611.36 83.36,615.13 84.61,618.00C85.87,620.87 87.66,623.92 87.84,626.61C88.02,629.31 87.66,632.18 85.69,634.15C83.72,636.13 79.41,637.92 76.00,638.46C72.59,639.00 68.64,638.46 65.23,637.38C61.82,636.31 57.87,634.51 55.54,632.00C53.20,629.49 51.77,625.36 51.23,622.31C50.69,619.26 50.87,616.20 52.31,613.69Z"/></clipPath>
<path d="M52.31,613.69C53.74,611.18 56.61,608.49 59.84,607.23C63.08,605.97 68.28,605.79 71.69,606.15C75.10,606.51 78.15,607.41 80.31,609.38C82.46,611.36 83.36,615.13 84.61,618.00C85.87,620.87 87.66,623.92 87.84,626.61C88.02,629.31 87.66,632.18 85.69,634.15C83.72,636.13 79.41,637.92 76.00,638.46C72.59,639.00 68.64,638.46 65.23,637.38C61.82,636.31 57.87,634.51 55.54,632.00C53.20,629.49 51.77,625.36 51.23,622.31C50.69,619.26 50.87,616.20 52.31,613.69Z" fill="none" stroke="#c03040" stroke-opacity="0.32" stroke-width="6" clip-path="url(#r3_0)" filter="url(#bl2)"/>
<path d="M52.31,613.69C53.74,611.18 56.61,608.49 59.84,607.23C63.08,605.97 68.28,605.79 71.69,606.15C75.10,606.51 78.15,607.41 80.31,609.38C82.46,611.36 83.36,615.13 84.61,618.00C85.87,620.87 87.66,623.92 87.84,626.61C88.02,629.31 87.66,632.18 85.69,634.15C83.72,636.13 79.41,637.92 76.00,638.46C72.59,639.00 68.64,638.46 65.23,637.38C61.82,636.31 57.87,634.51 55.54,632.00C53.20,629.49 51.77,625.36 51.23,622.31C50.69,619.26 50.87,616.20 52.31,613.69Z" fill="none" stroke="#686666" stroke-width="0.9" filter="url(#bl)"/>
<path d="M85.69,632.00C86.77,628.77 90.36,626.08 93.23,624.46C96.10,622.85 99.69,622.13 102.92,622.31C106.15,622.49 110.28,623.38 112.61,625.54C114.95,627.69 116.38,631.82 116.92,635.23C117.46,638.64 116.92,642.77 115.84,646.00C114.77,649.23 112.79,653.00 110.46,654.61C108.13,656.23 104.89,656.23 101.84,655.69C98.79,655.15 94.66,653.36 92.15,651.38C89.64,649.41 87.84,647.08 86.77,643.84C85.69,640.61 84.61,635.23 85.69,632.00Z" fill="#857b7c" fill-opacity="1" filter="url(#tx2)"/>
<clipPath id="r3_1"><path d="M85.69,632.00C86.77,628.77 90.36,626.08 93.23,624.46C96.10,622.85 99.69,622.13 102.92,622.31C106.15,622.49 110.28,623.38 112.61,625.54C114.95,627.69 116.38,631.82 116.92,635.23C117.46,638.64 116.92,642.77 115.84,646.00C114.77,649.23 112.79,653.00 110.46,654.61C108.13,656.23 104.89,656.23 101.84,655.69C98.79,655.15 94.66,653.36 92.15,651.38C89.64,649.41 87.84,647.08 86.77,643.84C85.69,640.61 84.61,635.23 85.69,632.00Z"/></clipPath>
<path d="M85.69,632.00C86.77,628.77 90.36,626.08 93.23,624.46C96.10,622.85 99.69,622.13 102.92,622.31C106.15,622.49 110.28,623.38 112.61,625.54C114.95,627.69 116.38,631.82 116.92,635.23C117.46,638.64 116.92,642.77 115.84,646.00C114.77,649.23 112.79,653.00 110.46,654.61C108.13,656.23 104.89,656.23 101.84,655.69C98.79,655.15 94.66,653.36 92.15,651.38C89.64,649.41 87.84,647.08 86.77,643.84C85.69,640.61 84.61,635.23 85.69,632.00Z" fill="none" stroke="#c03040" stroke-opacity="0.32" stroke-width="6" clip-path="url(#r3_1)" filter="url(#bl2)"/>
<path d="M85.69,632.00C86.77,628.77 90.36,626.08 93.23,624.46C96.10,622.85 99.69,622.13 102.92,622.31C106.15,622.49 110.28,623.38 112.61,625.54C114.95,627.69 116.38,631.82 116.92,635.23C117.46,638.64 116.92,642.77 115.84,646.00C114.77,649.23 112.79,653.00 110.46,654.61C108.13,656.23 104.89,656.23 101.84,655.69C98.79,655.15 94.66,653.36 92.15,651.38C89.64,649.41 87.84,647.08 86.77,643.84C85.69,640.61 84.61,635.23 85.69,632.00Z" fill="none" stroke="#2e2c2c" stroke-width="1.0" filter="url(#bl)"/>
<path d="M63.08,650.31C64.33,647.36 66.84,646.46 69.54,645.57C72.23,644.67 76.18,644.31 79.23,644.92C82.28,645.53 85.69,646.90 87.84,649.23C90.00,651.56 91.61,655.51 92.15,658.92C92.69,662.33 92.33,667.00 91.07,669.69C89.82,672.38 87.31,674.00 84.61,675.07C81.92,676.15 77.97,676.51 74.92,676.15C71.87,675.79 68.46,675.07 66.31,672.92C64.15,670.77 62.54,667.00 62.00,663.23C61.46,659.46 61.82,653.25 63.08,650.31Z" fill="#857b7c" fill-opacity="1" filter="url(#tx2)"/>
<clipPath id="r3_2"><path d="M63.08,650.31C64.33,647.36 66.84,646.46 69.54,645.57C72.23,644.67 76.18,644.31 79.23,644.92C82.28,645.53 85.69,646.90 87.84,649.23C90.00,651.56 91.61,655.51 92.15,658.92C92.69,662.33 92.33,667.00 91.07,669.69C89.82,672.38 87.31,674.00 84.61,675.07C81.92,676.15 77.97,676.51 74.92,676.15C71.87,675.79 68.46,675.07 66.31,672.92C64.15,670.77 62.54,667.00 62.00,663.23C61.46,659.46 61.82,653.25 63.08,650.31Z"/></clipPath>
<path d="M63.08,650.31C64.33,647.36 66.84,646.46 69.54,645.57C72.23,644.67 76.18,644.31 79.23,644.92C82.28,645.53 85.69,646.90 87.84,649.23C90.00,651.56 91.61,655.51 92.15,658.92C92.69,662.33 92.33,667.00 91.07,669.69C89.82,672.38 87.31,674.00 84.61,675.07C81.92,676.15 77.97,676.51 74.92,676.15C71.87,675.79 68.46,675.07 66.31,672.92C64.15,670.77 62.54,667.00 62.00,663.23C61.46,659.46 61.82,653.25 63.08,650.31Z" fill="none" stroke="#c03040" stroke-opacity="0.32" stroke-width="6" clip-path="url(#r3_2)" filter="url(#bl2)"/>
<path d="M63.08,650.31C64.33,647.36 66.84,646.46 69.54,645.57C72.23,644.67 76.18,644.31 79.23,644.92C82.28,645.53 85.69,646.90 87.84,649.23C90.00,651.56 91.61,655.51 92.15,658.92C92.69,662.33 92.33,667.00 91.07,669.69C89.82,672.38 87.31,674.00 84.61,675.07C81.92,676.15 77.97,676.51 74.92,676.15C71.87,675.79 68.46,675.07 66.31,672.92C64.15,670.77 62.54,667.00 62.00,663.23C61.46,659.46 61.82,653.25 63.08,650.31Z" fill="none" stroke="#2e2c2c" stroke-width="1.0" filter="url(#bl)"/>
<path d="M31.85,671.84C33.28,670.05 36.33,668.25 39.38,667.54C42.44,666.82 46.74,666.82 50.15,667.54C53.56,668.25 57.51,670.05 59.84,671.84C62.18,673.64 63.79,675.97 64.15,678.30C64.51,680.64 63.61,683.87 62.00,685.84C60.38,687.82 57.51,689.43 54.46,690.15C51.41,690.87 46.92,691.05 43.69,690.15C40.46,689.25 37.23,686.74 35.08,684.77C32.92,682.79 31.31,680.46 30.77,678.30C30.23,676.15 30.41,673.64 31.85,671.84Z" fill="#a65a66" fill-opacity="1" filter="url(#tx3)"/>
<clipPath id="r3_3"><path d="M31.85,671.84C33.28,670.05 36.33,668.25 39.38,667.54C42.44,666.82 46.74,666.82 50.15,667.54C53.56,668.25 57.51,670.05 59.84,671.84C62.18,673.64 63.79,675.97 64.15,678.30C64.51,680.64 63.61,683.87 62.00,685.84C60.38,687.82 57.51,689.43 54.46,690.15C51.41,690.87 46.92,691.05 43.69,690.15C40.46,689.25 37.23,686.74 35.08,684.77C32.92,682.79 31.31,680.46 30.77,678.30C30.23,676.15 30.41,673.64 31.85,671.84Z"/></clipPath>
<path d="M31.85,671.84C33.28,670.05 36.33,668.25 39.38,667.54C42.44,666.82 46.74,666.82 50.15,667.54C53.56,668.25 57.51,670.05 59.84,671.84C62.18,673.64 63.79,675.97 64.15,678.30C64.51,680.64 63.61,683.87 62.00,685.84C60.38,687.82 57.51,689.43 54.46,690.15C51.41,690.87 46.92,691.05 43.69,690.15C40.46,689.25 37.23,686.74 35.08,684.77C32.92,682.79 31.31,680.46 30.77,678.30C30.23,676.15 30.41,673.64 31.85,671.84Z" fill="none" stroke="#e02838" stroke-opacity="0.3" stroke-width="5" clip-path="url(#r3_3)" filter="url(#bl2)"/>
<path d="M31.85,671.84C33.28,670.05 36.33,668.25 39.38,667.54C42.44,666.82 46.74,666.82 50.15,667.54C53.56,668.25 57.51,670.05 59.84,671.84C62.18,673.64 63.79,675.97 64.15,678.30C64.51,680.64 63.61,683.87 62.00,685.84C60.38,687.82 57.51,689.43 54.46,690.15C51.41,690.87 46.92,691.05 43.69,690.15C40.46,689.25 37.23,686.74 35.08,684.77C32.92,682.79 31.31,680.46 30.77,678.30C30.23,676.15 30.41,673.64 31.85,671.84Z" fill="none" stroke="#e2d6d8" stroke-width="1.2" filter="url(#bl)"/>
<path d="M121.23,598.62C123.02,597.72 126.25,596.10 127.69,597.54C129.12,598.97 129.66,604.18 129.84,607.23C130.02,610.28 129.84,614.05 128.77,615.85C127.69,617.64 125.18,618.72 123.38,618.00C121.59,617.28 119.07,614.05 118.00,611.54C116.92,609.03 116.38,605.08 116.92,602.92C117.46,600.77 119.43,599.51 121.23,598.62Z" fill="#857b7c" fill-opacity="1" filter="url(#tx2)"/>
<path d="M121.23,598.62C123.02,597.72 126.25,596.10 127.69,597.54C129.12,598.97 129.66,604.18 129.84,607.23C130.02,610.28 129.84,614.05 128.77,615.85C127.69,617.64 125.18,618.72 123.38,618.00C121.59,617.28 119.07,614.05 118.00,611.54C116.92,609.03 116.38,605.08 116.92,602.92C117.46,600.77 119.43,599.51 121.23,598.62Z" fill="none" stroke="#3a3a3a" stroke-width="1.0" filter="url(#bl)"/>
<path d="M86.77,698.77C88.20,696.61 92.33,695.18 95.38,694.46C98.43,693.74 102.38,693.74 105.07,694.46C107.77,695.18 110.10,696.79 111.54,698.77C112.97,700.74 117.82,704.87 113.69,706.30C109.56,707.74 91.25,708.64 86.77,707.38C82.28,706.12 85.33,700.92 86.77,698.77Z" fill="#857b7c" fill-opacity="1" filter="url(#tx2)"/>
<path d="M86.77,698.77C88.20,696.61 92.33,695.18 95.38,694.46C98.43,693.74 102.38,693.74 105.07,694.46C107.77,695.18 110.10,696.79 111.54,698.77C112.97,700.74 117.82,704.87 113.69,706.30C109.56,707.74 91.25,708.64 86.77,707.38C82.28,706.12 85.33,700.92 86.77,698.77Z" fill="none" stroke="#333" stroke-width="1.0" filter="url(#bl)"/>
<rect x="23.8" y="699.80" width="104.6" height="1.2" fill="#4a4a4a" fill-opacity="0.45"/>
</g>
<text transform="translate(15.00,410.20) rotate(-90)" font-size="11.5" text-anchor="middle" fill="#000">Δ</text>
<text transform="translate(15.00,549.20) rotate(-90)" font-size="12.5" fill="#000">p13-mut</text>
<text transform="translate(15.00,658.60) rotate(-90)" font-size="12.5" fill="#000">p13-wt</text>
</svg></body></html>
